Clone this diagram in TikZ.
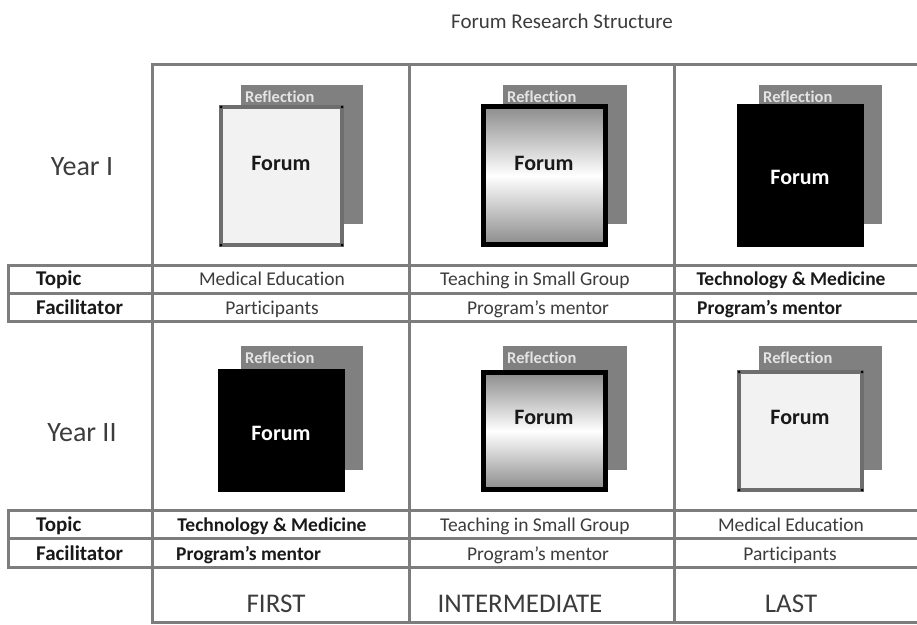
\documentclass[tikz,border=0pt]{standalone}
\usepackage{fontspec}
\setmainfont{Carlito}[Ligatures=NoCommon]
\definecolor{gridgray}{RGB}{125,125,125}
\definecolor{reflgray}{RGB}{128,128,128}
\definecolor{refltext}{RGB}{228,228,228}
\definecolor{lightfill}{RGB}{242,242,242}
\definecolor{lightborder}{RGB}{110,110,110}
\definecolor{gradgray}{RGB}{140,140,140}
\definecolor{txtgray}{RGB}{60,60,60}
\definecolor{txtdark}{RGB}{25,25,25}
\tikzset{
  grid/.style={draw=gridgray, line width=3pt},
  refl/.style={fill=reflgray},
  refllbl/.style={anchor=west, inner sep=0pt, text height=10.6pt, text depth=0pt, text=refltext, font=\fontsize{16.5}{19}\selectfont\bfseries},
  flight/.style={fill=lightfill, draw=lightborder, line width=4pt},
  fgrad/.style={top color=gradgray, bottom color=gradgray, middle color=white, draw=black, line width=5pt},
  fdark/.style={fill=black},
  forumlbl/.style={inner sep=0pt, text height=14pt, text depth=0pt, font=\fontsize{22}{26}\selectfont\bfseries, text=txtdark},
  forumlblw/.style={forumlbl, text=white},
  cell/.style={inner sep=0pt, text height=12.5pt, text depth=0pt, font=\fontsize{19.5}{23}\selectfont, text=txtgray},
  cellb/.style={cell, font=\fontsize{19.5}{23}\selectfont\bfseries, text=txtdark},
  rowlbl/.style={inner sep=0pt, anchor=west, text height=13.5pt, text depth=0pt, font=\fontsize{21}{25}\selectfont\bfseries, text=txtdark},
  yearlbl/.style={inner sep=0pt, text height=18pt, text depth=0pt, font=\fontsize{28}{33}\selectfont, text=txtgray},
  stagelbl/.style={inner sep=0pt, text height=17.4pt, text depth=0pt, font=\fontsize{27}{32}\selectfont, text=txtgray},
  dot/.style={fill=black, circle, inner sep=0pt, minimum size=3pt},
}
\begin{document}
\begin{tikzpicture}[x=1pt,y=-1pt]
\useasboundingbox (0,0) rectangle (917,624);
% title
\node[inner sep=0pt, text height=13.5pt, text depth=0pt, font=\fontsize{21}{25}\selectfont, text=txtgray] (title) at (562,22) {Forum Research Structure};
% grid
\draw[grid] (152,64) -- (917,64);
\draw[grid] (8,265) -- (917,265);
\draw[grid] (8,293) -- (917,293);
\draw[grid] (8,321) -- (917,321);
\draw[grid] (8,510) -- (917,510);
\draw[grid] (8,538.5) -- (917,538.5);
\draw[grid] (8,567) -- (917,567);
\draw[grid] (152,622) -- (917,622);
\draw[grid] (152,62.5) -- (152,623.5);
\draw[grid] (409,62.5) -- (409,623.5);
\draw[grid] (674,62.5) -- (674,623.5);
\draw[grid] (8,263.5) -- (8,322.5);
\draw[grid] (8,508.5) -- (8,568.5);
% Year I boxes
\fill[refl] (241,85) rectangle (363,224);
\node[refllbl] (r11) at (245,97) {Reflection};
\draw[flight] (221,107) rectangle (342,245);
\foreach \p in {(221,107),(342,107),(221,245),(342,245)} \node[dot] at \p {};
\node[forumlbl] (f11) at (281,163) {Forum};

\fill[refl] (503,85) rectangle (627,224);
\node[refllbl] (r12) at (507,97) {Reflection};
\draw[fgrad] (483.5,106.5) rectangle (605.5,244.5);
\node[forumlbl] (f12) at (544,163) {Forum};

\fill[refl] (759,85) rectangle (882,224);
\node[refllbl] (r13) at (763,97) {Reflection};
\fill[fdark] (737,104) rectangle (864,247);
\node[forumlblw] (f13) at (800,177) {Forum};

% Year II boxes
\fill[refl] (241,346) rectangle (363,470);
\node[refllbl] (r21) at (245,358) {Reflection};
\fill[fdark] (218,369) rectangle (345,492);
\node[forumlblw] (f21) at (281,433) {Forum};

\fill[refl] (503,346) rectangle (627,470);
\node[refllbl] (r22) at (507,358) {Reflection};
\draw[fgrad] (483.5,372.5) rectangle (605.5,489.5);
\node[forumlbl] (f22) at (544,417) {Forum};

\fill[refl] (759,346) rectangle (882,470);
\node[refllbl] (r23) at (763,358) {Reflection};
\draw[flight] (739,372) rectangle (862,490);
\foreach \p in {(739,372),(862,372),(739,490),(862,490)} \node[dot] at \p {};
\node[forumlbl] (f23) at (800,417) {Forum};

% year labels
\node[yearlbl] (y1) at (82,166) {Year I};
\node[yearlbl] (y2) at (82,432.5) {Year II};

% Year I rows
\node[rowlbl] (t1) at (36,279) {Topic};
\node[rowlbl] (fa1) at (36,308) {Facilitator};
\node[cell] (t11) at (272,279) {Medical Education};
\node[cell] (t12) at (535,279) {Teaching in Small Group};
\node[cellb] (t13) at (791,279) {Technology \& Medicine};
\node[cell] (fa11) at (272,308) {Participants};
\node[cell] (fa12) at (538,308) {Program's mentor};
\node[cellb, anchor=west] (fa13) at (697,308) {Program's mentor};

% Year II rows
\node[rowlbl] (t2) at (36,525) {Topic};
\node[rowlbl] (fa2) at (36,554) {Facilitator};
\node[cellb] (t21) at (272,525) {Technology \& Medicine};
\node[cell] (t22) at (535,525) {Teaching in Small Group};
\node[cell] (t23) at (791,525) {Medical Education};
\node[cellb, anchor=west] (fa21) at (176,554) {Program's mentor};
\node[cell] (fa22) at (538,554) {Program's mentor};
\node[cell] (fa23) at (790,554) {Participants};

% stage labels
\node[stagelbl] (s1) at (276,604) {FIRST};
\node[stagelbl] (s2) at (520,604) {INTERMEDIATE};
\node[stagelbl] (s3) at (791,604) {LAST};
\end{tikzpicture}
\end{document}
